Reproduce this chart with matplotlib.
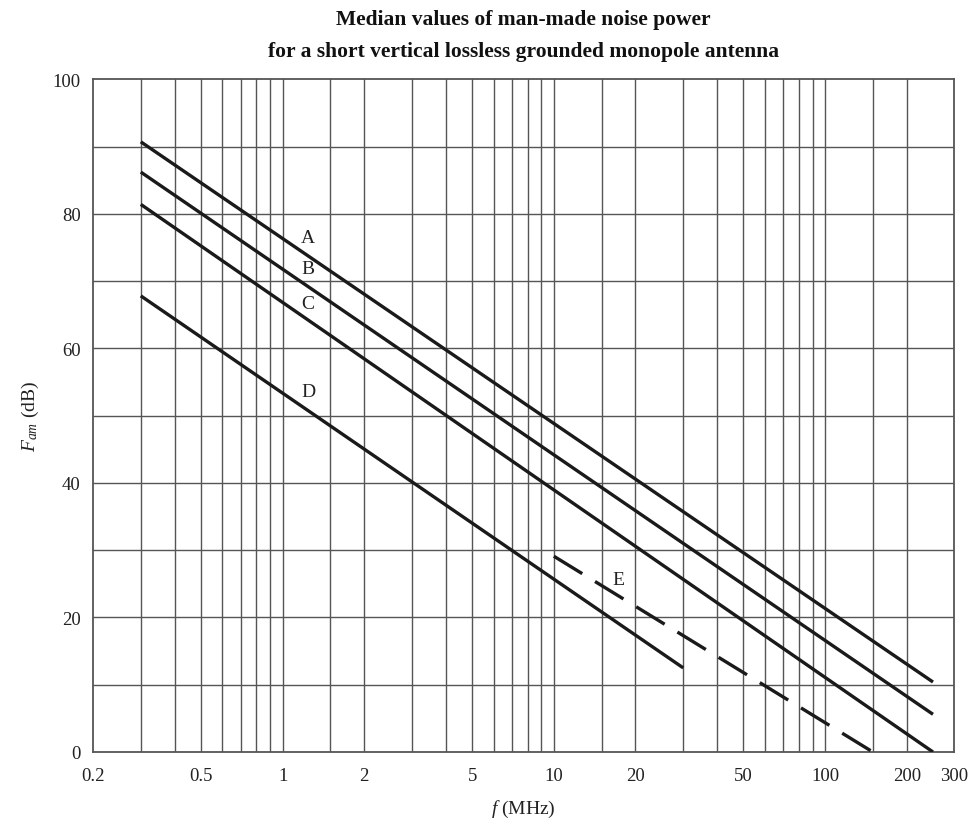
import matplotlib.pyplot as plt
import numpy as np

plt.rcParams['font.family'] = ['Liberation Serif', 'DejaVu Serif']
plt.rcParams['mathtext.fontset'] = 'custom'
plt.rcParams['mathtext.it'] = 'Liberation Serif:italic'
plt.rcParams['mathtext.rm'] = 'Liberation Serif'

# line end points (f in MHz, Fam in dB)
names = ['A', 'B', 'C', 'D', 'E']
f_start = [0.3, 0.3, 0.3, 0.3, 10]
f_end = [250, 250, 250, 30, 150]
fam_start = [90.7, 86.2, 81.4, 67.8, 29.1]
fam_end = [10.4, 5.6, 0.0, 12.5, 0.0]
styles = ['-', '-', '-', '-', '--']

# label positions
label_f = [1.17, 1.17, 1.17, 1.17, 16.5]
label_fam = [76.5, 71.8, 66.6, 53.6, 25.7]

x_ticks = [0.2, 0.5, 1, 2, 5, 10, 20, 50, 100, 200, 300]
x_ticklabels = ['0.2', '0.5', '1', '2', '5', '10', '20', '50', '100', '200', '300']
x_grid = [0.3, 0.4, 0.5, 0.6, 0.7, 0.8, 0.9, 1, 1.5, 2, 3, 4, 5, 6, 7, 8, 9, 10,
          15, 20, 30, 40, 50, 60, 70, 80, 90, 100, 150, 200]
y_ticks = [0, 20, 40, 60, 80, 100]
y_grid = [10, 20, 30, 40, 50, 60, 70, 80, 90]

fig = plt.figure(figsize=(9.69, 8.28), dpi=100)
ax = fig.add_axes([0.096, 0.0906, 0.889, 0.8125])

grid_col = '#555555'
for xv in x_grid:
    ax.axvline(xv, color=grid_col, lw=1.0, zorder=1)
for yv in y_grid:
    ax.axhline(yv, color=grid_col, lw=1.0, zorder=1)

for i in range(len(names)):
    ax.plot([f_start[i], f_end[i]], [fam_start[i], fam_end[i]], color='#1a1a1a',
            lw=2.4, ls=styles[i], dashes=(10, 4.5) if styles[i] == '--' else (None, None),
            zorder=3, solid_capstyle='butt')
    ax.text(label_f[i], label_fam[i], names[i], fontsize=14, ha='left', va='center',
            color='#222222', zorder=4,
            bbox=dict(facecolor='white', edgecolor='none', pad=0.5) if names[i] == 'E' else None)

ax.set_xscale('log')
ax.set_xlim(0.2, 300)
ax.set_ylim(0, 100)
ax.set_xticks(x_ticks)
ax.set_xticklabels(x_ticklabels)
ax.xaxis.set_minor_locator(plt.NullLocator())
ax.set_yticks(y_ticks)
ax.tick_params(length=0, labelsize=13.5, colors='#222222')
ax.tick_params(axis='x', pad=11)
ax.tick_params(axis='y', pad=9)
for sp in ax.spines.values():
    sp.set_color(grid_col)
    sp.set_linewidth(1.3)

ax.set_xlabel(r'$f$ (MHz)', fontsize=14, labelpad=10, color='#222222')
ax.set_ylabel(r'$F_{am}$ (dB)', fontsize=14, labelpad=8, color='#222222')

fig.text(0.54, 0.976, 'Median values of man-made noise power', ha='center', va='center',
         fontsize=15.5, fontweight='bold', color='#111111')
fig.text(0.54, 0.937, 'for a short vertical lossless grounded monopole antenna', ha='center',
         va='center', fontsize=15.5, fontweight='bold', color='#111111')

fig.savefig('out.png', dpi=100)
